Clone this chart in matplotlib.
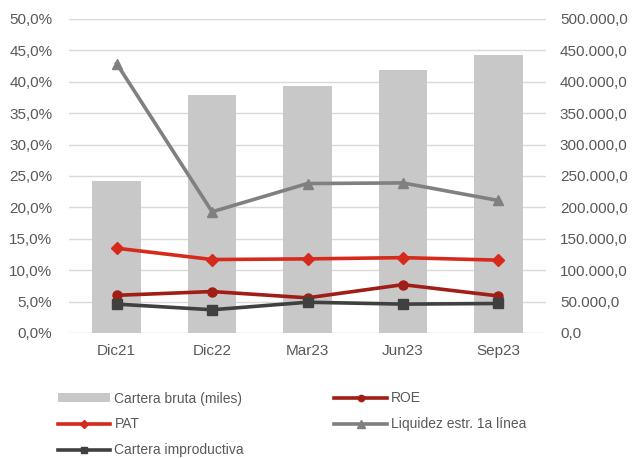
import matplotlib.pyplot as plt
from matplotlib.ticker import FuncFormatter

plt.rcParams['font.family'] = ['Liberation Sans', 'DejaVu Sans']

periods = ['Dic21', 'Dic22', 'Mar23', 'Jun23', 'Sep23']
cartera_bruta = [242100, 378400, 393800, 418100, 443100]
roe = [6.0, 6.6, 5.6, 7.7, 5.9]
pat = [13.5, 11.7, 11.8, 12.0, 11.6]
liquidez = [42.9, 19.3, 23.8, 23.9, 21.1]
improductiva = [4.6, 3.7, 4.9, 4.6, 4.7]

txt = '#595959'

def pct_fmt(v, pos):
    return f'{v:.1f}'.replace('.', ',') + '%'

def miles_fmt(v, pos):
    s = f'{v:,.1f}'
    return s.replace(',', 'X').replace('.', ',').replace('X', '.')

fig = plt.figure(figsize=(6.32, 4.58), dpi=100)
ax = fig.add_axes([69 / 632, 125 / 458, 477 / 632, 314 / 458])
ax2 = ax.twinx()

x = range(len(periods))
bars = ax2.bar(x, cartera_bruta, width=0.51, color='#C8C8C8', label='Cartera bruta (miles)')
ax2.set_ylim(0, 500000)
ax2.set_yticks(range(0, 500001, 50000))
ax2.yaxis.set_major_formatter(FuncFormatter(miles_fmt))
ax2.grid(axis='y', color='#D9D9D9', lw=1)
ax2.set_axisbelow(True)

l_roe, = ax.plot(x, roe, color='#A01E15', lw=2.6, marker='o', ms=6.5, label='ROE')
l_pat, = ax.plot(x, pat, color='#D62A1C', lw=2.6, marker='D', ms=6, label='PAT')
l_liq, = ax.plot(x, liquidez, color='#808080', lw=2.6, marker='^', ms=7.5, label='Liquidez estr. 1a línea')
l_imp, = ax.plot(x, improductiva, color='#404040', lw=2.6, marker='s', ms=6.5, label='Cartera improductiva')

ax.set_ylim(0, 50)
ax.set_yticks(range(0, 51, 5))
ax.yaxis.set_major_formatter(FuncFormatter(pct_fmt))
ax.set_xlim(-0.5, 4.5)
ax.set_xticks(list(x))
ax.set_xticklabels(periods)

# lines above the bars
ax.set_zorder(ax2.get_zorder() + 1)
ax.patch.set_visible(False)

for a in (ax, ax2):
    for s in a.spines.values():
        s.set_visible(False)
    a.tick_params(length=0, labelsize=11, colors=txt)
ax.tick_params(axis='x', pad=8)
ax.tick_params(axis='y', pad=12)
ax2.tick_params(axis='y', pad=10)

handles = [bars, l_pat, l_imp, l_roe, l_liq]
leg = fig.legend(handles, [h.get_label() for h in handles], ncol=2,
                 loc='upper left', bbox_to_anchor=(45 / 632, 1 - 379 / 458),
                 frameon=False, fontsize=10, labelcolor=txt,
                 handlelength=3.8, handleheight=0.55, handletextpad=0.3,
                 columnspacing=6.5, labelspacing=0.85, markerscale=0.7)

fig.savefig('out.png', dpi=100)
